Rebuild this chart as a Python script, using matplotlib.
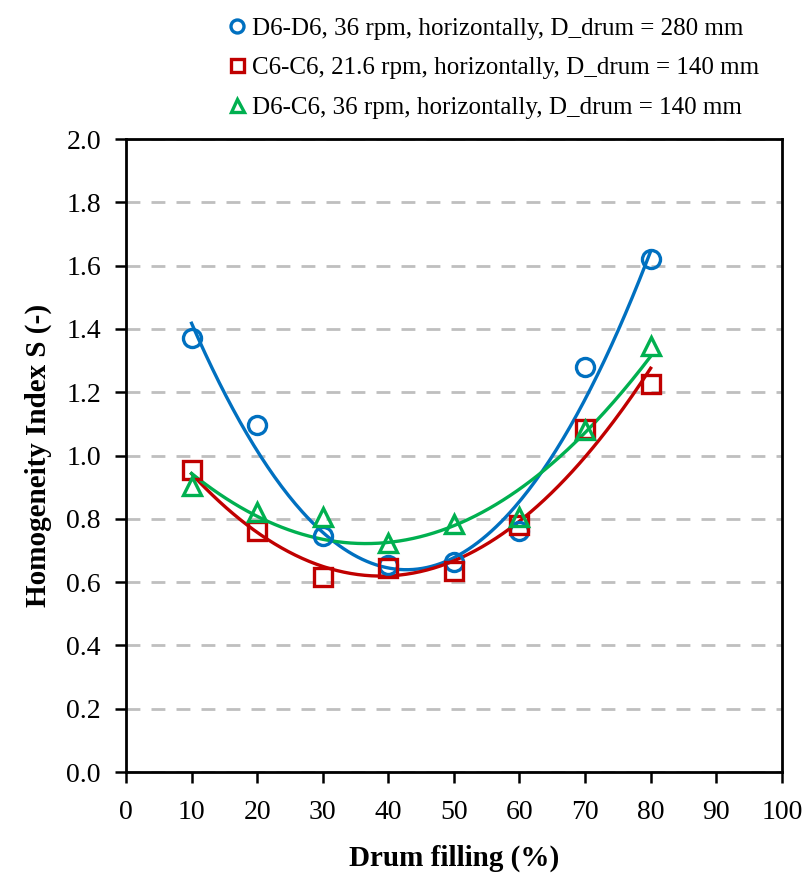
import numpy as np
import matplotlib.pyplot as plt

plt.rcParams['font.family'] = ['Liberation Serif', 'DejaVu Serif']

# drum filling (%)
filling = [10, 20, 30, 40, 50, 60, 70, 80]

# homogeneity index S for each setup
s_d6d6 = [1.37, 1.095, 0.745, 0.655, 0.665, 0.76, 1.28, 1.62]
s_c6c6 = [0.955, 0.76, 0.615, 0.645, 0.635, 0.78, 1.085, 1.225]
s_d6c6 = [0.905, 0.82, 0.805, 0.725, 0.785, 0.805, 1.08, 1.345]

labels = ['D6-D6, 36 rpm, horizontally, D_drum = 280 mm',
          'C6-C6, 21.6 rpm, horizontally, D_drum = 140 mm',
          'D6-C6, 36 rpm, horizontally, D_drum = 140 mm']
colors = ['#0070C0', '#C00000', '#00B050']
markers = ['o', 's', '^']
fit_order = [2, 2, 2]

fig = plt.figure(figsize=(8.06, 8.76), dpi=100)
ax = fig.add_axes([0.1563, 0.1187, 0.8137, 0.7226])

xs = np.linspace(10, 80, 200)
for s, c, m, lab, k in zip([s_d6d6, s_c6c6, s_d6c6], colors, markers, labels, fit_order):
    # polynomial trendline, like the spreadsheet one
    coef = np.polyfit(filling, s, k)
    ax.plot(xs, np.polyval(coef, xs), color=c, lw=2.4, zorder=3)
    ax.plot(filling, s, ls='none', marker=m, ms=13, mfc='none', mec=c,
            mew=2.4, label=lab, zorder=4)

ax.set_xlim(0, 100)
ax.set_ylim(0, 2.0)
ax.set_xticks(range(0, 101, 10))
ax.set_yticks(np.arange(0, 2.01, 0.2))
ax.set_yticklabels(['{:.1f}'.format(v) for v in np.arange(0, 2.01, 0.2)])
ax.yaxis.grid(True, ls=(0, (5, 4)), color='#BFBFBF', lw=2)
ax.set_axisbelow(True)
ax.tick_params(direction='out', length=8, width=1.8, labelsize=20, pad=10)
ax.tick_params(axis='x', pad=12)
for sp in ax.spines.values():
    sp.set_linewidth(2)

ax.set_xlabel('Drum filling (%)', fontsize=21, fontweight='bold', labelpad=14)
ax.set_ylabel('Homogeneity Index S (-)', fontsize=21, fontweight='bold', labelpad=10)

fig.legend(loc='upper right', bbox_to_anchor=(0.97, 1.006), frameon=False,
           fontsize=18, handletextpad=0.2, labelspacing=0.68,
           handlelength=0.8, markerscale=0.72)

fig.savefig('out.png', dpi=100)
